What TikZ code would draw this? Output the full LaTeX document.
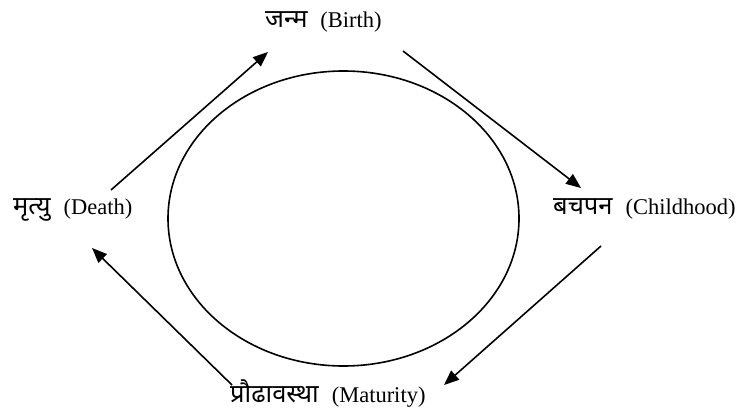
\documentclass[tikz,border=0pt]{standalone}
\usepackage{fontspec}
\setmainfont{Liberation Serif}
\newfontfamily\dev[Script=Devanagari]{Noto Sans}
\usetikzlibrary{arrows.meta,shapes.geometric}
\tikzset{
  lbl/.style={inner sep=0pt, anchor=base west, font=\fontsize{22.5}{27}\selectfont},
  cyc/.style={line width=1.6pt, -{Triangle[length=15pt,width=12pt]}},
}
\newcommand{\hin}[1]{{\dev\fontsize{25.5}{30}\selectfont #1}\hspace{13pt}}
\begin{document}
\begin{tikzpicture}[x=1pt,y=-1pt]
\useasboundingbox (0,0) rectangle (741,412);
\node[draw, ellipse, line width=1.6pt, inner sep=0pt, minimum width=351pt, minimum height=295pt] (life) at (343.5,218.5) {};
\node[lbl] (birth) at (265,28) {\hin{जन्म}(Birth)};
\node[lbl] (death) at (13,214) {\hin{मृत्यु}(Death)};
\node[lbl] (child) at (553,214) {\hin{बचपन}(Childhood)};
\node[lbl] (matur) at (230,402) {\hin{प्रौढावस्था}(Maturity)};
\coordinate (a1) at (111,190); \coordinate (b1) at (268,52);
\coordinate (a2) at (403,51);  \coordinate (b2) at (581,188);
\coordinate (a3) at (601,246); \coordinate (b3) at (444,385);
\coordinate (a4) at (232,385); \coordinate (b4) at (92,248);
\draw[cyc] (a1) -- (b1);
\draw[cyc] (a2) -- (b2);
\draw[cyc] (a3) -- (b3);
\draw[cyc] (a4) -- (b4);
\end{tikzpicture}
\end{document}
